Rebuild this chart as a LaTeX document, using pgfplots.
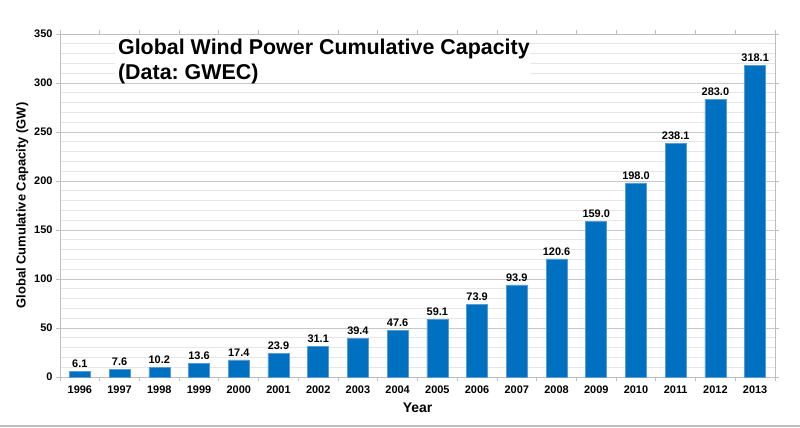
\documentclass[border=0pt]{standalone}
\usepackage{fontspec}
\setmainfont{Liberation Sans}
\usepackage{pgfplots}
\pgfplotsset{compat=1.18}

\definecolor{barblue}{RGB}{0,112,192}
\definecolor{baredge}{RGB}{90,155,215}
\definecolor{majgrid}{RGB}{200,200,200}
\definecolor{mingrid}{RGB}{230,230,230}
\definecolor{axisgray}{RGB}{190,190,190}

\begin{document}
\begin{tikzpicture}[x=1bp,y=1bp]
\path[use as bounding box] (0,0) rectangle (800,427);
\draw[line width=1.2bp, axisgray] (0,1) -- (800,1);
\begin{axis}[
    at={(60bp,50bp)}, anchor=south west,
    scale only axis,
    width=715bp, height=343bp,
    xmin=-0.5, xmax=17.5,
    ymin=0, ymax=350,
    xtick={0,...,17},
    xticklabels={1996,1997,1998,1999,2000,2001,2002,2003,2004,2005,2006,2007,2008,2009,2010,2011,2012,2013},
    minor xtick={-0.5,0.5,...,17.5},
    ytick={0,50,...,350},
    minor ytick={10,20,...,340},
    ymajorgrids, yminorgrids,
    major grid style={majgrid, line width=0.8bp},
    minor grid style={mingrid, line width=0.8bp},
    axis line style={axisgray, line width=0.8bp},
    tick align=outside,
    major tick length=4bp, minor tick length=4bp,
    major x tick style={draw=none},
    minor x tick style={axisgray, line width=0.8bp},
    minor y tick style={draw=none},
    major y tick style={axisgray, line width=0.8bp},
    /pgf/number format/assume math mode=true,
    ticklabel style={font=\fontsize{11}{13}\selectfont\bfseries},
    xticklabel style={yshift=-1bp},
    xlabel={Year},
    ylabel={Global Cumulative Capacity (GW)},
    xlabel style={font=\fontsize{14}{16}\selectfont\bfseries, yshift=-3bp},
    ylabel style={font=\fontsize{13}{15}\selectfont\bfseries, yshift=-1bp},
    ybar, bar width=21bp,
    nodes near coords,
    nodes near coords style={font=\fontsize{11}{13}\selectfont\bfseries,
        /pgf/number format/.cd, fixed, fixed zerofill, precision=1, assume math mode=true},
    clip=false,
]
\addplot[fill=barblue, draw=baredge, line width=0.6bp] coordinates {
    (0,6.1) (1,7.6) (2,10.2) (3,13.6) (4,17.4) (5,23.9) (6,31.1) (7,39.4)
    (8,47.6) (9,59.1) (10,73.9) (11,93.9) (12,120.6) (13,159.0) (14,198.0)
    (15,238.1) (16,283.0) (17,318.1)
};
\fill[white] (rel axis cs:0.077,0.996) rectangle (rel axis cs:0.657,0.866);
\node[anchor=north west, align=left, inner sep=0pt,
      font=\fontsize{21.5}{25}\selectfont\bfseries]
    at (rel axis cs:0.081,0.987) {Global Wind Power Cumulative Capacity\\(Data:~GWEC)};
\end{axis}
\end{tikzpicture}
\end{document}
